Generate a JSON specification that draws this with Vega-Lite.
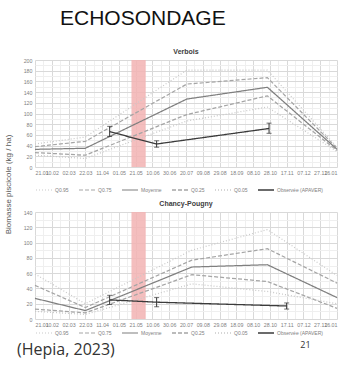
{
  "$schema": "https://vega.github.io/schema/vega-lite/v6.json",
  "background": "white",
  "padding": {"left": 4, "right": 4, "top": 8, "bottom": 2},
  "config": {
    "font": "Liberation Sans",
    "view": {"stroke": null},
    "axis": {"labelFontSize": 5.3, "labelColor": "#7f7f7f", "domain": false, "ticks": false, "gridColor": "#d9d9d9", "labelPadding": 3, "titleFontSize": 8, "titleColor": "#595959", "titleFontWeight": "normal"},
    "legend": {"orient": "bottom", "direction": "horizontal", "title": null, "labelFontSize": 5, "labelColor": "#808080", "symbolType": "stroke", "symbolSize": 256, "symbolStrokeWidth": 1.3, "columnPadding": 7, "offset": 2, "labelOffset": 2, "labelLimit": 120},
    "title": {"font": "Liberation Sans"}
  },
  "datasets": {
    "verbois": [
      {"date": "2023-01-21T00:00", "serie": "Q0.95", "value": 43},
      {"date": "2023-03-22T00:00", "serie": "Q0.95", "value": 56},
      {"date": "2023-07-21T00:00", "serie": "Q0.95", "value": 181},
      {"date": "2023-10-25T00:00", "serie": "Q0.95", "value": 181},
      {"date": "2024-01-16T00:00", "serie": "Q0.95", "value": 37},
      {"date": "2023-01-21T00:00", "serie": "Q0.75", "value": 38},
      {"date": "2023-03-22T00:00", "serie": "Q0.75", "value": 48},
      {"date": "2023-07-21T00:00", "serie": "Q0.75", "value": 155},
      {"date": "2023-10-25T00:00", "serie": "Q0.75", "value": 167},
      {"date": "2024-01-16T00:00", "serie": "Q0.75", "value": 35},
      {"date": "2023-01-21T00:00", "serie": "Moyenne", "value": 33},
      {"date": "2023-03-22T00:00", "serie": "Moyenne", "value": 35},
      {"date": "2023-07-21T00:00", "serie": "Moyenne", "value": 127},
      {"date": "2023-10-25T00:00", "serie": "Moyenne", "value": 149},
      {"date": "2024-01-16T00:00", "serie": "Moyenne", "value": 33},
      {"date": "2023-01-21T00:00", "serie": "Q0.25", "value": 27},
      {"date": "2023-03-22T00:00", "serie": "Q0.25", "value": 22},
      {"date": "2023-07-21T00:00", "serie": "Q0.25", "value": 98},
      {"date": "2023-10-25T00:00", "serie": "Q0.25", "value": 133},
      {"date": "2024-01-16T00:00", "serie": "Q0.25", "value": 31},
      {"date": "2023-01-21T00:00", "serie": "Q0.05", "value": 22},
      {"date": "2023-03-22T00:00", "serie": "Q0.05", "value": 16},
      {"date": "2023-07-21T00:00", "serie": "Q0.05", "value": 86},
      {"date": "2023-10-25T00:00", "serie": "Q0.05", "value": 112},
      {"date": "2024-01-16T00:00", "serie": "Q0.05", "value": 29},
      {"date": "2023-04-20T00:00", "serie": "Observée (APAVER)", "value": 66, "lo": 57, "hi": 76},
      {"date": "2023-06-15T00:00", "serie": "Observée (APAVER)", "value": 43, "lo": 37, "hi": 49},
      {"date": "2023-10-27T00:00", "serie": "Observée (APAVER)", "value": 72, "lo": 63, "hi": 82}
    ],
    "chancy": [
      {"date": "2023-01-21T00:00", "serie": "Q0.95", "value": 59},
      {"date": "2023-03-22T00:00", "serie": "Q0.95", "value": 20},
      {"date": "2023-07-27T00:00", "serie": "Q0.95", "value": 90},
      {"date": "2023-10-25T00:00", "serie": "Q0.95", "value": 117},
      {"date": "2024-01-16T00:00", "serie": "Q0.95", "value": 57},
      {"date": "2023-01-21T00:00", "serie": "Q0.75", "value": 44},
      {"date": "2023-03-22T00:00", "serie": "Q0.75", "value": 15},
      {"date": "2023-07-27T00:00", "serie": "Q0.75", "value": 77},
      {"date": "2023-10-25T00:00", "serie": "Q0.75", "value": 92},
      {"date": "2024-01-16T00:00", "serie": "Q0.75", "value": 47},
      {"date": "2023-01-21T00:00", "serie": "Moyenne", "value": 27},
      {"date": "2023-03-22T00:00", "serie": "Moyenne", "value": 11},
      {"date": "2023-07-27T00:00", "serie": "Moyenne", "value": 68},
      {"date": "2023-10-25T00:00", "serie": "Moyenne", "value": 71},
      {"date": "2024-01-16T00:00", "serie": "Moyenne", "value": 28},
      {"date": "2023-01-21T00:00", "serie": "Q0.25", "value": 13},
      {"date": "2023-03-22T00:00", "serie": "Q0.25", "value": 8},
      {"date": "2023-07-27T00:00", "serie": "Q0.25", "value": 58},
      {"date": "2023-10-25T00:00", "serie": "Q0.25", "value": 49},
      {"date": "2024-01-16T00:00", "serie": "Q0.25", "value": 14},
      {"date": "2023-01-21T00:00", "serie": "Q0.05", "value": 10},
      {"date": "2023-03-22T00:00", "serie": "Q0.05", "value": 6},
      {"date": "2023-07-27T00:00", "serie": "Q0.05", "value": 46},
      {"date": "2023-10-25T00:00", "serie": "Q0.05", "value": 36},
      {"date": "2024-01-16T00:00", "serie": "Q0.05", "value": 20},
      {"date": "2023-04-20T00:00", "serie": "Observée (APAVER)", "value": 25, "lo": 19, "hi": 31},
      {"date": "2023-06-15T00:00", "serie": "Observée (APAVER)", "value": 22, "lo": 16, "hi": 28},
      {"date": "2023-11-17T00:00", "serie": "Observée (APAVER)", "value": 17, "lo": 13, "hi": 21}
    ],
    "band": [
      {"start": "2023-05-16T00:00", "end": "2023-06-02T00:00"}
    ]
  },
  "title": {"text": "(Hepia, 2023)", "orient": "bottom", "anchor": "start", "font": "Open Sans", "fontSize": 16, "fontWeight": "normal", "color": "#333333", "offset": 0, "dx": 13, "dy": -8},
  "vconcat": [
    {
      "title": {"text": "21", "orient": "bottom", "anchor": "end", "font": "Open Sans", "fontSize": 9, "fontWeight": "normal", "color": "#333333", "offset": 5, "dx": -29},
      "vconcat": [
        {
          "title": {"text": "ECHOSONDAGE", "anchor": "start", "fontSize": 21, "fontWeight": "normal", "color": "#111111", "dx": 56, "offset": 19},
          "bounds": "flush",
          "spacing": 45,
          "vconcat": [
            {
              "title": {"text": "Verbois", "fontSize": 7, "fontWeight": "bold", "color": "#404040", "offset": 3},
              "width": 302,
              "height": 107,
              "resolve": {"axis": {"x": "independent", "y": "independent"}},
              "layer": [
                {
                  "data": {"name": "band"},
                  "mark": {"type": "rect", "color": "#f2b3b3", "opacity": 0.85},
                  "encoding": {
                    "x": {"field": "start", "type": "temporal",
                      "scale": {"domain": [{"year": 2023, "month": 1, "date": 21}, {"year": 2024, "month": 1, "date": 16}]},
                      "axis": {"orient": "top", "title": null, "labels": false, "grid": true, "gridColor": "#efefef",
                        "values": [{"year": 2023, "month": 1, "date": 31}, {"year": 2023, "month": 2, "date": 20}, {"year": 2023, "month": 3, "date": 12}, {"year": 2023, "month": 4, "date": 1}, {"year": 2023, "month": 4, "date": 21}, {"year": 2023, "month": 5, "date": 11}, {"year": 2023, "month": 5, "date": 31}, {"year": 2023, "month": 6, "date": 20}, {"year": 2023, "month": 7, "date": 10}, {"year": 2023, "month": 7, "date": 30}, {"year": 2023, "month": 8, "date": 19}, {"year": 2023, "month": 9, "date": 8}, {"year": 2023, "month": 9, "date": 28}, {"year": 2023, "month": 10, "date": 18}, {"year": 2023, "month": 11, "date": 7}, {"year": 2023, "month": 11, "date": 27}, {"year": 2023, "month": 12, "date": 17}, {"year": 2024, "month": 1, "date": 6}]}},
                    "x2": {"field": "end"},
                    "y": {"datum": 0, "type": "quantitative", "scale": {"domain": [0, 200]},
                      "axis": {"orient": "right", "title": null, "labels": false, "grid": true, "gridColor": "#efefef", "values": [10, 30, 50, 70, 90, 110, 130, 150, 170, 190]}},
                    "y2": {"datum": 200}
                  }
                },
                {
                  "data": {"name": "verbois"},
                  "mark": {"type": "line"},
                  "encoding": {
                    "x": {"field": "date", "type": "temporal",
                      "scale": {"domain": [{"year": 2023, "month": 1, "date": 21}, {"year": 2024, "month": 1, "date": 16}]},
                      "axis": {"orient": "bottom", "title": null, "format": "%d.%m", "labelAngle": 0, "labelOverlap": false, "grid": true,
                        "values": [{"year": 2023, "month": 1, "date": 21}, {"year": 2023, "month": 2, "date": 10}, {"year": 2023, "month": 3, "date": 2}, {"year": 2023, "month": 3, "date": 22}, {"year": 2023, "month": 4, "date": 11}, {"year": 2023, "month": 5, "date": 1}, {"year": 2023, "month": 5, "date": 21}, {"year": 2023, "month": 6, "date": 10}, {"year": 2023, "month": 6, "date": 30}, {"year": 2023, "month": 7, "date": 20}, {"year": 2023, "month": 8, "date": 9}, {"year": 2023, "month": 8, "date": 29}, {"year": 2023, "month": 9, "date": 18}, {"year": 2023, "month": 10, "date": 8}, {"year": 2023, "month": 10, "date": 28}, {"year": 2023, "month": 11, "date": 17}, {"year": 2023, "month": 12, "date": 7}, {"year": 2023, "month": 12, "date": 27}, {"year": 2024, "month": 1, "date": 16}]}},
                    "y": {"field": "value", "type": "quantitative", "scale": {"domain": [0, 200]},
                      "axis": {"orient": "left", "title": "Biomasse piscicole (kg / ha)", "titleX": -27, "titleY": 124, "titleAngle": -90, "titleAlign": "center", "titleBaseline": "middle", "grid": true, "values": [0, 20, 40, 60, 80, 100, 120, 140, 160, 180, 200]}},
                    "color": {"field": "serie", "type": "nominal",
                      "scale": {"domain": ["Q0.95", "Q0.75", "Moyenne", "Q0.25", "Q0.05", "Observée (APAVER)"], "range": ["#c9c9c9", "#a5a5a5", "#7f7f7f", "#a5a5a5", "#c9c9c9", "#3b3b3b"]},
                      "legend": {"offset": 5}},
                    "strokeDash": {"field": "serie", "type": "nominal",
                      "scale": {"domain": ["Q0.95", "Q0.75", "Moyenne", "Q0.25", "Q0.05", "Observée (APAVER)"], "range": [[1, 2], [4, 2], [1, 0], [4, 2], [1, 2], [1, 0]]}},
                    "strokeWidth": {"field": "serie", "type": "nominal",
                      "scale": {"domain": ["Q0.95", "Q0.75", "Moyenne", "Q0.25", "Q0.05", "Observée (APAVER)"], "range": [1.2, 1.3, 1.8, 1.3, 1.2, 1.6]}, "legend": null}
                  }
                },
                {
                  "data": {"name": "verbois"},
                  "transform": [{"filter": "isValid(datum.lo)"}],
                  "mark": {"type": "errorbar", "ticks": {"size": 5}, "color": "#333333", "thickness": 1},
                  "encoding": {
                    "x": {"field": "date", "type": "temporal", "axis": null},
                    "y": {"field": "lo", "type": "quantitative", "axis": null},
                    "y2": {"field": "hi"}
                  }
                }
              ]
            },
            {
              "title": {"text": "Chancy-Pougny", "fontSize": 7, "fontWeight": "bold", "color": "#404040", "offset": 3},
              "width": 302,
              "height": 107,
              "resolve": {"axis": {"x": "independent", "y": "independent"}},
              "layer": [
                {
                  "data": {"name": "band"},
                  "mark": {"type": "rect", "color": "#f2b3b3", "opacity": 0.85},
                  "encoding": {
                    "x": {"field": "start", "type": "temporal",
                      "scale": {"domain": [{"year": 2023, "month": 1, "date": 21}, {"year": 2024, "month": 1, "date": 16}]},
                      "axis": {"orient": "top", "title": null, "labels": false, "grid": true, "gridColor": "#efefef",
                        "values": [{"year": 2023, "month": 1, "date": 31}, {"year": 2023, "month": 2, "date": 20}, {"year": 2023, "month": 3, "date": 12}, {"year": 2023, "month": 4, "date": 1}, {"year": 2023, "month": 4, "date": 21}, {"year": 2023, "month": 5, "date": 11}, {"year": 2023, "month": 5, "date": 31}, {"year": 2023, "month": 6, "date": 20}, {"year": 2023, "month": 7, "date": 10}, {"year": 2023, "month": 7, "date": 30}, {"year": 2023, "month": 8, "date": 19}, {"year": 2023, "month": 9, "date": 8}, {"year": 2023, "month": 9, "date": 28}, {"year": 2023, "month": 10, "date": 18}, {"year": 2023, "month": 11, "date": 7}, {"year": 2023, "month": 11, "date": 27}, {"year": 2023, "month": 12, "date": 17}, {"year": 2024, "month": 1, "date": 6}]}},
                    "x2": {"field": "end"},
                    "y": {"datum": 0, "type": "quantitative", "scale": {"domain": [0, 140]},
                      "axis": {"orient": "right", "title": null, "labels": false, "grid": true, "gridColor": "#efefef", "values": [10, 30, 50, 70, 90, 110, 130]}},
                    "y2": {"datum": 140}
                  }
                },
                {
                  "data": {"name": "chancy"},
                  "mark": {"type": "line"},
                  "encoding": {
                    "x": {"field": "date", "type": "temporal",
                      "scale": {"domain": [{"year": 2023, "month": 1, "date": 21}, {"year": 2024, "month": 1, "date": 16}]},
                      "axis": {"orient": "bottom", "title": null, "format": "%d.%m", "labelAngle": 0, "labelOverlap": false, "grid": true,
                        "values": [{"year": 2023, "month": 1, "date": 21}, {"year": 2023, "month": 2, "date": 10}, {"year": 2023, "month": 3, "date": 2}, {"year": 2023, "month": 3, "date": 22}, {"year": 2023, "month": 4, "date": 11}, {"year": 2023, "month": 5, "date": 1}, {"year": 2023, "month": 5, "date": 21}, {"year": 2023, "month": 6, "date": 10}, {"year": 2023, "month": 6, "date": 30}, {"year": 2023, "month": 7, "date": 20}, {"year": 2023, "month": 8, "date": 9}, {"year": 2023, "month": 8, "date": 29}, {"year": 2023, "month": 9, "date": 18}, {"year": 2023, "month": 10, "date": 8}, {"year": 2023, "month": 10, "date": 28}, {"year": 2023, "month": 11, "date": 17}, {"year": 2023, "month": 12, "date": 7}, {"year": 2023, "month": 12, "date": 27}, {"year": 2024, "month": 1, "date": 16}]}},
                    "y": {"field": "value", "type": "quantitative", "scale": {"domain": [0, 140]},
                      "axis": {"orient": "left", "title": null, "grid": true, "values": [0, 20, 40, 60, 80, 100, 120, 140]}},
                    "color": {"field": "serie", "type": "nominal",
                      "scale": {"domain": ["Q0.95", "Q0.75", "Moyenne", "Q0.25", "Q0.05", "Observée (APAVER)"], "range": ["#c9c9c9", "#a5a5a5", "#7f7f7f", "#a5a5a5", "#c9c9c9", "#3b3b3b"]},
                      "legend": {"offset": -4}},
                    "strokeDash": {"field": "serie", "type": "nominal",
                      "scale": {"domain": ["Q0.95", "Q0.75", "Moyenne", "Q0.25", "Q0.05", "Observée (APAVER)"], "range": [[1, 2], [4, 2], [1, 0], [4, 2], [1, 2], [1, 0]]}},
                    "strokeWidth": {"field": "serie", "type": "nominal",
                      "scale": {"domain": ["Q0.95", "Q0.75", "Moyenne", "Q0.25", "Q0.05", "Observée (APAVER)"], "range": [1.2, 1.3, 1.8, 1.3, 1.2, 1.6]}, "legend": null}
                  }
                },
                {
                  "data": {"name": "chancy"},
                  "transform": [{"filter": "isValid(datum.lo)"}],
                  "mark": {"type": "errorbar", "ticks": {"size": 5}, "color": "#333333", "thickness": 1},
                  "encoding": {
                    "x": {"field": "date", "type": "temporal", "axis": null},
                    "y": {"field": "lo", "type": "quantitative", "axis": null},
                    "y2": {"field": "hi"}
                  }
                }
              ]
            }
          ],
          "resolve": {"scale": {"color": "independent", "strokeDash": "independent", "strokeWidth": "independent"}, "legend": {"color": "independent", "strokeDash": "independent"}}
        }
      ]
    }
  ]
}
